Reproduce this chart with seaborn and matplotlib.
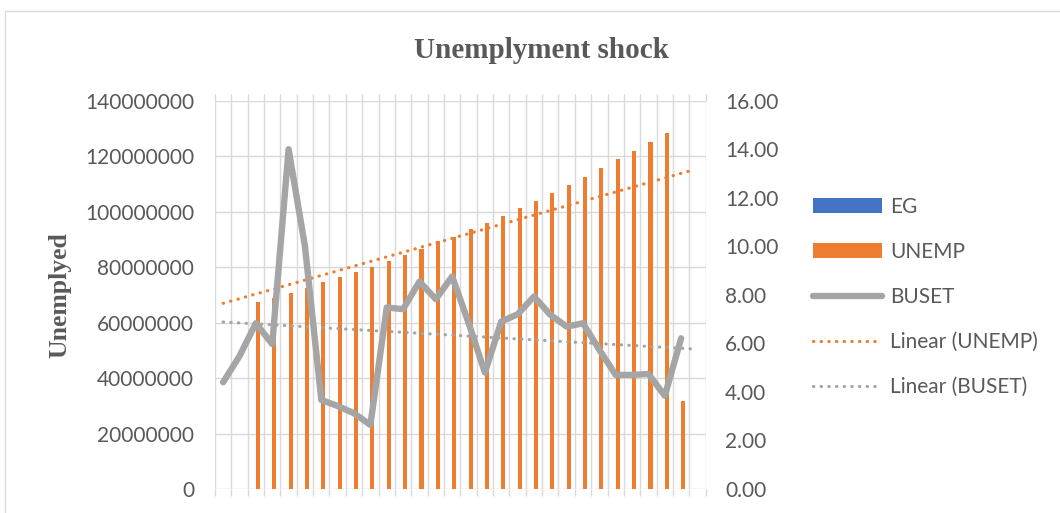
import numpy as np
import pandas as pd
import matplotlib
matplotlib.use("Agg")
import matplotlib.pyplot as plt
import seaborn as sns
from matplotlib.patches import Patch, Rectangle
from matplotlib.lines import Line2D
from matplotlib.ticker import FuncFormatter, MultipleLocator

# ---- data (30 categories, no x labels shown) ----
periods = [str(i) for i in range(1, 31)]
# unemployed, left axis (blank for the first two and the last period)
unemp = [np.nan, np.nan,
         67.3e6, 69.0e6, 70.8e6, 72.6e6, 74.5e6, 76.3e6, 78.2e6, 80.1e6,
         82.2e6, 84.2e6, 86.4e6, 89.4e6, 91.0e6, 93.6e6, 95.9e6, 98.4e6,
         101.2e6, 103.9e6, 106.8e6, 109.6e6, 112.5e6, 115.6e6, 118.8e6,
         122.0e6, 125.1e6, 128.3e6, 31.8e6, np.nan]
# EG is in the legend but too small to show on this axis
eg = [0.0] * 30
# BUSET, right axis (29 points)
buset = [4.40, 5.48, 6.83, 5.97, 14.00, 10.00, 3.67, 3.42, 3.12, 2.64,
         7.48, 7.41, 8.55, 7.82, 8.76, 6.85, 4.80, 6.90, 7.20, 7.93,
         7.18, 6.69, 6.83, 5.73, 4.70, 4.70, 4.74, 3.84, 6.21]

ORANGE = "#ED7D31"
BLUE = "#4472C4"
GREY = "#A5A5A5"
GRID = "#D9D9D9"
TXT = "#595959"

sns.set_theme(style="white")
plt.rcParams["font.family"] = ["Lato", "DejaVu Sans"]

df = pd.DataFrame({
    "period": periods * 2,
    "series": ["EG"] * 30 + ["UNEMP"] * 30,
    "value": eg + unemp,
})

fig = plt.figure(figsize=(10.6, 5.13), dpi=100)
ax = fig.add_axes([215 / 1060, 1 - 489 / 513, (705.7 - 215) / 1060, (489 - 100.7) / 513])

sns.barplot(data=df, x="period", y="value", hue="series", order=periods,
            hue_order=["EG", "UNEMP"], palette=[BLUE, ORANGE], width=0.5,
            dodge=True, legend=False, ax=ax, errorbar=None, saturation=1,
            linewidth=0)

# linear trend of UNEMP
xu = np.array([i for i, v in enumerate(unemp) if not np.isnan(v)])
yu = np.array([v for v in unemp if not np.isnan(v)])
cu = np.polyfit(xu, yu, 1)
xt = np.array([0, 28.7])
ax.plot(xt, np.polyval(cu, xt), color=ORANGE, lw=2.3, dashes=(0.1, 2.3),
        dash_capstyle="round", zorder=3)

ax.set_xlim(-0.5, 29.5)
ax.set_ylim(0, 140e6)
ax.yaxis.set_major_locator(MultipleLocator(20e6))
ax.yaxis.set_major_formatter(FuncFormatter(lambda v, p: f"{v:.0f}"))
ax.set_xticks(np.arange(-0.5, 30, 1), minor=True)
ax.set_xticks([])
ax.set_xlabel("")
ax.set_ylabel("")
ax.grid(True, which="major", axis="y", color=GRID, lw=1.0)
ax.grid(True, which="minor", axis="x", color=GRID, lw=1.0)
ax.tick_params(axis="x", which="minor", bottom=True, top=True, length=5,
               width=1.0, color=GRID, direction="out")
ax.tick_params(axis="y", length=0, pad=15, labelsize=15, labelcolor=TXT)
for s in ax.spines.values():
    s.set_visible(False)
ax.set_axisbelow(True)

ax2 = ax.twinx()
sns.lineplot(x=np.arange(len(buset)), y=buset, color=GREY, lw=4.6, ax=ax2,
             solid_joinstyle="round", solid_capstyle="round", zorder=4)
xb = np.arange(len(buset))
cb = np.polyfit(xb, buset, 1)
ax2.plot(xt, np.polyval(cb, xt), color=GREY, lw=2.3, dashes=(0.1, 2.3),
         dash_capstyle="round", zorder=3)
ax2.set_ylim(0, 16)
ax2.yaxis.set_major_locator(MultipleLocator(2))
ax2.yaxis.set_major_formatter(FuncFormatter(lambda v, p: f"{v:.2f}"))
ax2.tick_params(axis="y", length=0, pad=14, labelsize=15, labelcolor=TXT)
ax2.set_ylabel("")
ax2.grid(False)
for s in ax2.spines.values():
    s.set_visible(False)

fig.text(541 / 1060, 1 - 50 / 513, "Unemplyment shock", ha="center", va="center",
         fontsize=21, fontweight="bold", color=TXT, family="Liberation Serif")
fig.text(60 / 1060, 1 - 295 / 513, "Unemplyed", ha="center", va="center",
         rotation=90, fontsize=18.5, fontweight="bold", color=TXT,
         family="Liberation Serif")

handles = [
    Patch(facecolor=BLUE, edgecolor="none"),
    Patch(facecolor=ORANGE, edgecolor="none"),
    Line2D([], [], color=GREY, lw=4.6, solid_capstyle="round"),
    Line2D([], [], color=ORANGE, lw=2.3, dashes=(0.1, 2.3), dash_capstyle="round"),
    Line2D([], [], color=GREY, lw=2.3, dashes=(0.1, 2.3), dash_capstyle="round"),
]
labels = ["EG", "UNEMP", "BUSET", "Linear (UNEMP)", "Linear (BUSET)"]
fig.legend(handles, labels, loc="upper left", bbox_to_anchor=(813 / 1060, 1 - 197 / 513),
           frameon=False, fontsize=15, labelcolor=TXT, handlelength=3.3,
           handletextpad=0.4, labelspacing=1.2, borderpad=0, borderaxespad=0)

fig.patches.append(Rectangle((5 / 1060, -0.1), 1.2, 1.1 - 11 / 513,
                             transform=fig.transFigure, fill=False,
                             edgecolor=GRID, lw=1.0))

fig.savefig("out.png", dpi=100)
